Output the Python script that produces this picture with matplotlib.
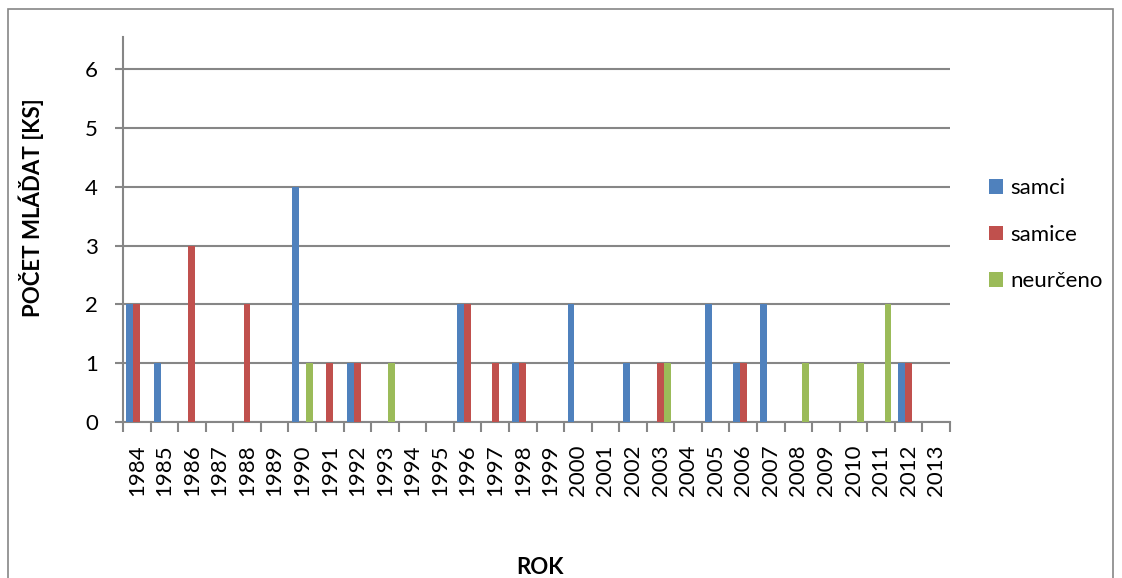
import matplotlib
matplotlib.use("Agg")
import matplotlib.pyplot as plt
from matplotlib.patches import Rectangle
import numpy as np

years = [str(y) for y in range(1984, 2014)]
samci = [2, 1, 0, 0, 0, 0, 4, 0, 1, 0, 0, 0, 2, 0, 1, 0, 2, 0, 1, 0, 0, 2, 1, 2, 0, 0, 0, 0, 1, 0]
samice = [2, 0, 3, 0, 2, 0, 0, 1, 1, 0, 0, 0, 2, 1, 1, 0, 0, 0, 0, 1, 0, 0, 1, 0, 0, 0, 0, 0, 1, 0]
neurceno = [0, 0, 0, 0, 0, 0, 1, 0, 0, 1, 0, 0, 0, 0, 0, 0, 0, 0, 0, 1, 0, 0, 0, 0, 1, 0, 1, 2, 0, 0]
series_names = ["samci", "samice", "neurčeno"]
colors = ["#4F81BD", "#C0504D", "#9BBB59"]

plt.rcParams["font.family"] = ["Lato", "DejaVu Sans"]
grid_c = "#868686"
fs = 16

fig = plt.figure(figsize=(11.22, 5.78), dpi=100)
ax = fig.add_axes([123 / 1122, 1 - 422 / 578, (950 - 123) / 1122, (422 - 37) / 578])

x = np.arange(len(years))
w = 0.25
for k, (vals, name, c) in enumerate(zip([samci, samice, neurceno], series_names, colors)):
    ax.bar(x + (k - 1) * w, vals, width=w, color=c, label=name, zorder=3)

ax.set_xlim(-0.5, len(years) - 0.5)
ax.set_ylim(0, 6.55)
ax.set_yticks(range(0, 7))
ax.set_xticks(x)
ax.set_xticklabels(years, rotation=90, fontsize=fs)
ax.set_xticks(np.arange(-0.5, len(years)), minor=True)
ax.tick_params(axis="x", which="major", length=0, pad=16)
ax.tick_params(axis="x", which="minor", length=7, width=1.5, color=grid_c, direction="out")
ax.tick_params(axis="y", length=6, width=1.5, color=grid_c, labelsize=fs, pad=12)

ax.yaxis.grid(True, color=grid_c, linewidth=1.5, zorder=0)
ax.set_axisbelow(True)
for s in ["top", "right"]:
    ax.spines[s].set_visible(False)
for s in ["left", "bottom"]:
    ax.spines[s].set_color(grid_c)
    ax.spines[s].set_linewidth(1.5)

fig.text(31 / 1122, 1 - 208 / 578, "POČET MLÁĎAT [KS]", rotation=90, ha="center", va="center",
         fontsize=fs, fontweight="bold")
fig.text(540 / 1122, 1 - 567 / 578, "ROK", ha="center", va="center", fontsize=fs, fontweight="bold")

leg = fig.legend(loc="upper left", bbox_to_anchor=(969 / 1122, 1 - 158 / 578), frameon=False,
                 fontsize=fs, handlelength=0.64, handleheight=0.64, handletextpad=0.3,
                 labelspacing=1.2)

fig.patches.append(Rectangle((8 / 1122, -0.05), (1113 - 8) / 1122, 1.05 - 9 / 578,
                             transform=fig.transFigure, fill=False, edgecolor=grid_c,
                             linewidth=1.2))

fig.savefig("out.png", dpi=100)
